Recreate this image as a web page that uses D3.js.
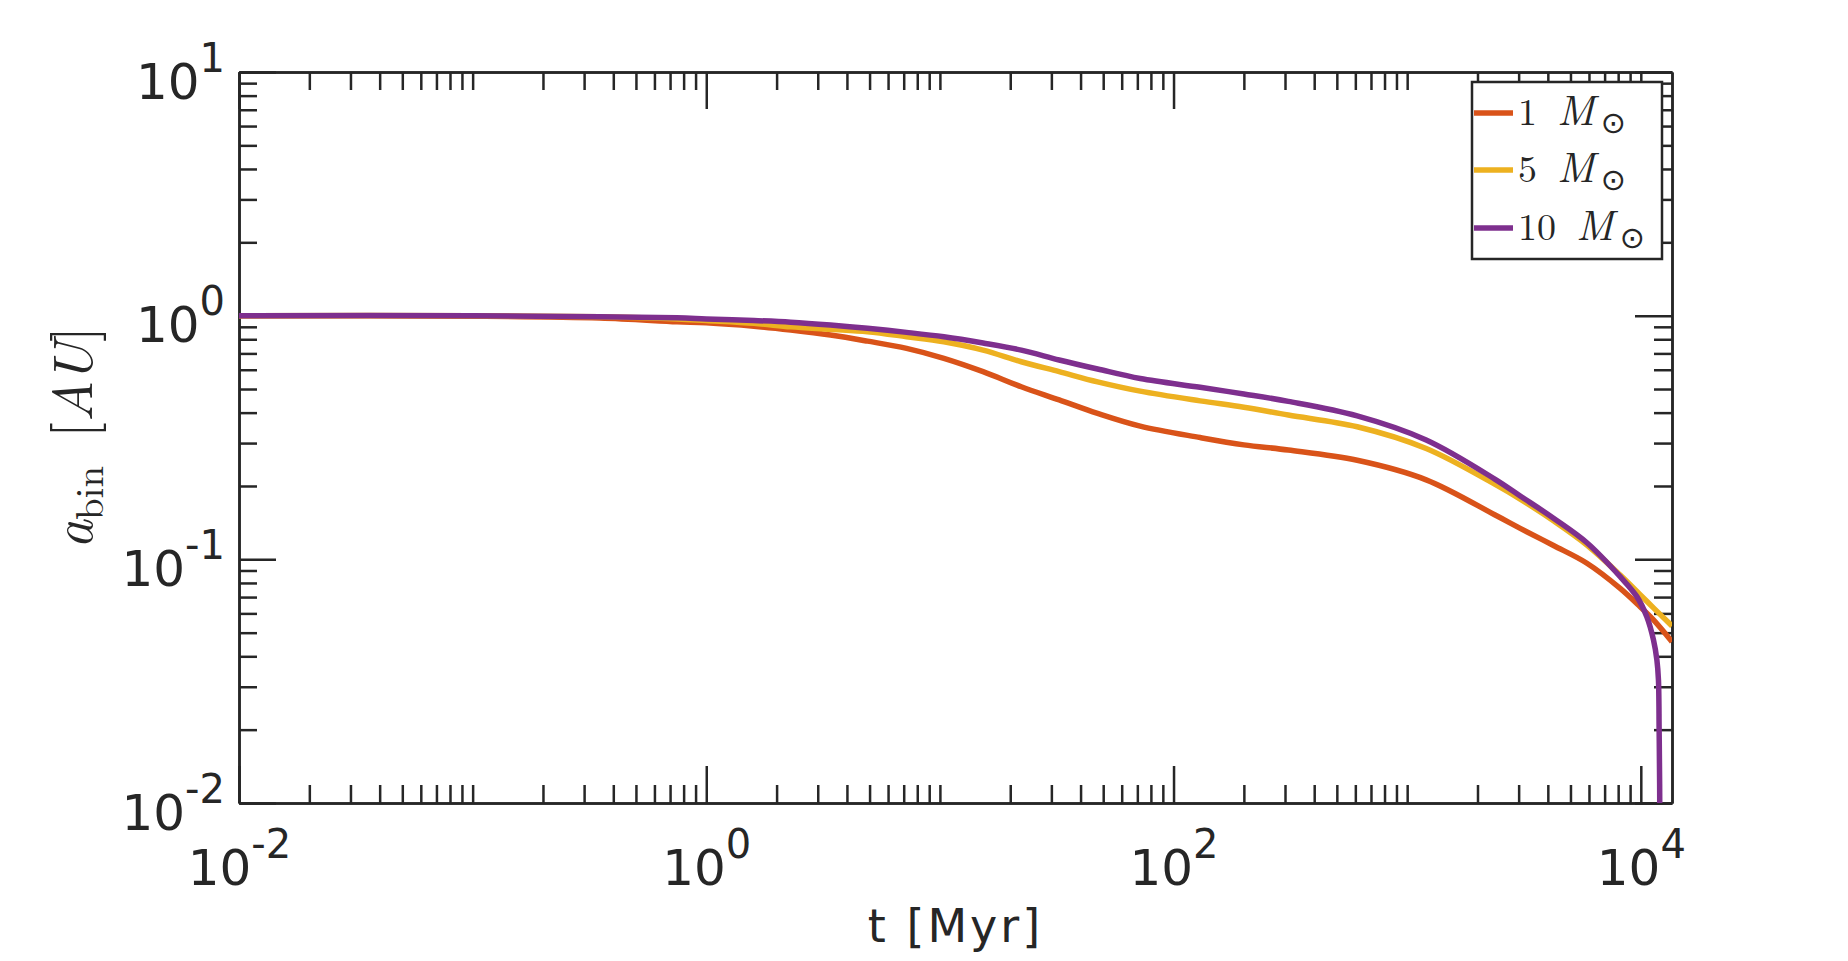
<!DOCTYPE html>
<html>
<head>
  <meta charset="utf-8">
  <title>Binary separation vs time</title>
  <script src="https://cdn.jsdelivr.net/npm/d3@7"></script>
  <style>
    body { margin: 0; background: #fff; }
    .axis path,
    .axis line {
      fill: none;
      stroke: #262626;
      stroke-width: 2.5;
    }
    .axis text {
      font-family: 'DejaVu Sans', sans-serif;
      font-size: 50px;
      fill: #262626;
    }
    .tex {
      font-family: 'Latin Modern Roman', 'CMU Serif', 'Liberation Serif', serif;
      fill: #262626;
    }
    .label {
      font-family: 'DejaVu Sans', sans-serif;
      font-size: 46px;
      letter-spacing: 3px;
      fill: #262626;
    }
    .series { fill: none; stroke-width: 5.5; stroke-linejoin: round; }
  </style>
</head>
<body>
<svg id="chart"></svg>
<script>
// time [Myr]
var tTimes = [0.01, 0.1, 0.35, 0.75, 1.0, 1.6, 2.3, 3.4, 4.9, 7.2, 10.4, 15.3, 22.3, 32.4, 47.3,
  72, 130, 200, 310, 611, 1206, 2380, 3047, 4230, 5880, 8160, 9935, 11330, 13600];

// separation [AU], 1 Msun
var aOne = [1.0, 0.995, 0.978, 0.944, 0.935, 0.905, 0.873, 0.833, 0.786, 0.734, 0.668, 0.589, 0.511, 0.451, 0.397,
  0.352, 0.316, 0.295, 0.281, 0.255, 0.212, 0.152, 0.134, 0.114, 0.0964, 0.076, 0.0639, 0.0564, 0.0459];

// 5 Msun
var aFive = [1.0, 1.0, 0.99, 0.97, 0.955, 0.93, 0.90, 0.879, 0.859, 0.82, 0.781, 0.722, 0.647, 0.589, 0.535,
  0.49, 0.447, 0.421, 0.391, 0.350, 0.285, 0.203, 0.1766, 0.144, 0.1145, 0.0862, 0.0716, 0.0632, 0.0533];

// 10 Msun, falls out of the box near 1.2e4 Myr
var tTen = [0.01, 0.1, 0.35, 0.75, 1.0, 1.6, 2.3, 3.4, 4.9, 7.2, 10.4, 15.3, 22.3, 32.4, 47.3,
  72, 130, 200, 310, 611, 1206, 2380, 3047, 4230, 5880, 8160, 9620, 10610, 11330, 11720, 11900,
  11980, 12040, 12080];
var aTen = [1.0, 1.0, 0.99, 0.98, 0.97, 0.955, 0.94, 0.915, 0.887, 0.854, 0.819, 0.772, 0.722, 0.658, 0.604,
  0.552, 0.508, 0.477, 0.445, 0.388, 0.309, 0.213, 0.182, 0.1475, 0.117, 0.0849, 0.0703, 0.0581, 0.0467, 0.0386, 0.032,
  0.02, 0.012, 0.006];

var seriesNames = ['1', '5', '10'];
var seriesColors = ['#D95319', '#EDB120', '#7E2F8E'];

var xMajor = [1e-2, 1e0, 1e2, 1e4];
var xMinor = [];
[-2, -1, 0, 1, 2, 3].forEach(k => {
  for (var m = 2; m < 10; m++) xMinor.push(m * Math.pow(10, k));
});
xMinor.push(0.1, 10, 1000);
var xExp = ['-2', '0', '2', '4'];

var yMajor = [1e-2, 1e-1, 1e0, 1e1];
var yMinor = [];
[-2, -1, 0].forEach(k => {
  for (var m = 2; m < 10; m++) yMinor.push(m * Math.pow(10, k));
});
var yExp = ['-2', '-1', '0', '1'];

var W = 1848, H = 961;
var margin = { top: 72, left: 239, right: W - 1672, bottom: H - 803 },
  width = W - margin.left - margin.right,
  height = H - margin.top - margin.bottom;

var root = d3.select('#chart')
  .attr('width', W)
  .attr('height', H);

var svg = root.append('g')
  .attr('transform', 'translate(' + margin.left + ',' + margin.top + ')');

var x = d3.scaleLog().domain([0.01, 13600]).range([0, width]);
var y = d3.scaleLog().domain([0.01, 10]).range([height, 0]);

var majorLen = 37, minorLen = 18;

// minor ticks, all four sides, pointing in
svg.append('g').attr('class', 'axis').attr('transform', 'translate(0,' + height + ')')
  .call(d3.axisBottom(x).tickValues(xMinor).tickSizeInner(-minorLen).tickSizeOuter(0).tickFormat(''));
svg.append('g').attr('class', 'axis')
  .call(d3.axisTop(x).tickValues(xMinor).tickSizeInner(-minorLen).tickSizeOuter(0).tickFormat(''));
svg.append('g').attr('class', 'axis')
  .call(d3.axisLeft(y).tickValues(yMinor).tickSizeInner(-minorLen).tickSizeOuter(0).tickFormat(''));
svg.append('g').attr('class', 'axis').attr('transform', 'translate(' + width + ',0)')
  .call(d3.axisRight(y).tickValues(yMinor).tickSizeInner(-minorLen).tickSizeOuter(0).tickFormat(''));

// major ticks
var xAxis = svg.append('g').attr('class', 'axis').attr('transform', 'translate(0,' + height + ')')
  .call(d3.axisBottom(x).tickValues(xMajor).tickSizeInner(-majorLen).tickSizeOuter(0).tickFormat(''));
svg.append('g').attr('class', 'axis')
  .call(d3.axisTop(x).tickValues(xMajor).tickSizeInner(-majorLen).tickSizeOuter(0).tickFormat(''));
var yAxis = svg.append('g').attr('class', 'axis')
  .call(d3.axisLeft(y).tickValues(yMajor).tickSizeInner(-majorLen).tickSizeOuter(0).tickFormat(''));
svg.append('g').attr('class', 'axis').attr('transform', 'translate(' + width + ',0)')
  .call(d3.axisRight(y).tickValues(yMajor).tickSizeInner(-majorLen).tickSizeOuter(0).tickFormat(''));

// 10^n labels
xAxis.selectAll('.tick text')
  .attr('y', 82).attr('dy', null)
  .attr('text-anchor', 'middle')
  .each(function (d, i) {
    var t = d3.select(this);
    t.append('tspan').text('10');
    t.append('tspan').attr('dy', -27).attr('font-size', 40).text(xExp[i]);
  });

yAxis.selectAll('.tick text')
  .attr('x', -14).attr('y', 26).attr('dy', null)
  .attr('text-anchor', 'end')
  .each(function (d, i) {
    var t = d3.select(this);
    t.append('tspan').text('10');
    t.append('tspan').attr('dy', -27).attr('font-size', 40).text(yExp[i]);
  });

// curves
svg.append('clipPath').attr('id', 'clip')
  .append('rect').attr('width', width).attr('height', height);

var line = d3.line()
  .x(d => x(d[0]))
  .y(d => y(d[1]))
  .curve(d3.curveCatmullRom.alpha(0.5));

var curves = [
  d3.zip(tTimes, aOne),
  d3.zip(tTimes, aFive),
  d3.zip(tTen, aTen)
];

svg.append('g').attr('clip-path', 'url(#clip)')
  .selectAll('path')
  .data(curves)
  .enter()
  .append('path')
  .attr('class', 'series')
  .attr('stroke', (d, i) => seriesColors[i])
  .attr('d', line);

// axis titles
root.append('text')
  .attr('class', 'label')
  .attr('x', margin.left + width / 2)
  .attr('y', 942)
  .attr('text-anchor', 'middle')
  .text('t [Myr]');

var yl = root.append('text')
  .attr('class', 'tex')
  .attr('font-size', 56)
  .attr('text-anchor', 'middle')
  .attr('transform', 'translate(92,' + (margin.top + height / 2) + ') rotate(-90)');
yl.append('tspan').attr('font-style', 'italic').text('a');
yl.append('tspan').attr('font-size', 39).attr('dy', 11).text('bin');
yl.append('tspan').attr('dy', -11).attr('dx', 28).text('[');
yl.append('tspan').attr('font-style', 'italic').text('AU');
yl.append('tspan').text(']');

// legend
var legend = root.append('g');
legend.append('rect')
  .attr('x', 1472).attr('y', 82)
  .attr('width', 190).attr('height', 177)
  .attr('fill', '#fff')
  .attr('stroke', '#262626')
  .attr('stroke-width', 2.5);

var rowY = [125, 182, 240];
seriesNames.forEach((name, i) => {
  legend.append('line')
    .attr('x1', 1474).attr('x2', 1513)
    .attr('y1', rowY[i] - 12).attr('y2', rowY[i] - 12)
    .attr('stroke', seriesColors[i])
    .attr('stroke-width', 5.5);
  var t = legend.append('text')
    .attr('class', 'tex')
    .attr('font-size', 38)
    .attr('x', 1518)
    .attr('y', rowY[i]);
  t.append('tspan').text(name);
  t.append('tspan').attr('dx', 20).attr('font-style', 'italic').attr('font-size', 42).text('M');
  t.append('tspan').attr('dx', 6).attr('dy', 8).attr('font-size', 30)
    .attr('font-family', 'DejaVu Sans, sans-serif').text('\u2299');
});
</script>
</body>
</html>
